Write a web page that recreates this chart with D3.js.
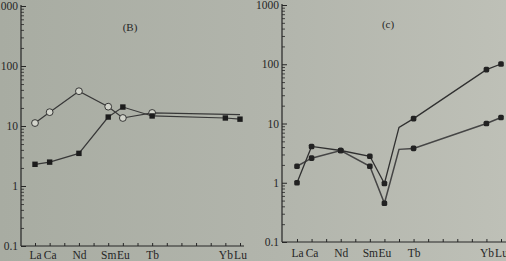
<!DOCTYPE html>
<html><head><meta charset="utf-8">
<script src="https://cdn.jsdelivr.net/npm/d3@7"></script>
<style>body{margin:0;background:#b3b6ad}svg{display:block}</style>
</head><body><svg id="c" width="506" height="261"></svg>
<script>
// Element positions along the x axis (chondrite-normalised REE pattern)
const elements = ["La","Ce","Pr","Nd","Pm","Sm","Eu","Gd","Tb","Dy","Ho","Er","Tm","Yb","Lu"];
const elementLabels = {La:"La",Ce:"Ca",Nd:"Nd",Sm:"Sm",Eu:"Eu",Tb:"Tb",Yb:"Yb",Lu:"Lu"};
const yTickLabels = [0.1, 1, 10, 100, 1000];

// Panel (B)
const bCircleEls = ["La","Ce","Nd","Sm","Eu","Tb","Lu"];
const bCircleVals = [11.2, 17, 38, 21, 13.6, 16.5, 15.5];
const bSquareEls = ["La","Ce","Nd","Sm","Eu","Tb","Yb","Lu"];
const bSquareVals = [2.3, 2.5, 3.5, 14.1, 20.7, 14.7, 13.6, 13];

// Panel (c)
const cP_Els = ["La","Ce","Nd","Sm","Eu","Gd","Tb","Yb","Lu"];
const cP_Vals = [1.0, 4.1, 3.5, 2.8, 0.97, 8.6, 12.1, 81, 101];
const cQ_Els = ["La","Ce","Nd","Sm","Eu","Gd","Tb","Yb","Lu"];
const cQ_Vals = [1.9, 2.6, 3.5, 1.9, 0.45, 3.66, 3.8, 10, 12.6];

const svg = d3.select("#c");
const defs = svg.append("defs");
const g = defs.append("linearGradient").attr("id","bg").attr("x1",0).attr("x2",1);
g.append("stop").attr("offset",0).attr("stop-color","#a8aca2");
g.append("stop").attr("offset",0.55).attr("stop-color","#b2b5ac");
g.append("stop").attr("offset",1).attr("stop-color","#bec0b7");
svg.append("rect").attr("width",506).attr("height",261).attr("fill","url(#bg)");

const ink = "#262626";
const font = "'Liberation Serif','Times New Roman',serif";

function panel(opt){
  const x = d3.scaleLinear().domain([0,14]).range([opt.x0, opt.x1]);
  const y = d3.scaleLog().domain([0.1,1000]).range([opt.yb, opt.yt]);
  const root = svg.append("g");
  const minor = y.ticks().filter(v => !yTickLabels.includes(+v.toPrecision(3)));
  root.append("g").attr("transform",`translate(${opt.ax},0)`)
    .call(d3.axisLeft(y).tickValues(minor).tickSize(-3).tickFormat(""))
    .call(s=>s.select(".domain").remove())
    .selectAll("line").attr("stroke",ink).attr("stroke-width",0.8);
  const yax = root.append("g").attr("transform",`translate(${opt.ax},0)`)
    .call(d3.axisLeft(y).tickValues(yTickLabels).tickSize(-5).tickPadding(3)
      .tickFormat(d => d3.format("~g")(d)));
  yax.select(".domain").attr("d",`M0,${opt.yt-1}V${opt.yb}`).attr("stroke",ink).attr("stroke-width",1.2);
  yax.selectAll("line").attr("stroke",ink);
  yax.selectAll("text").attr("font-family",font).attr("font-size",11.5).attr("fill",ink);
  const xax = root.append("g").attr("transform",`translate(0,${opt.yb})`)
    .call(d3.axisBottom(x).tickValues(d3.range(15)).tickSize(-3).tickPadding(opt.pad)
      .tickFormat(i => elementLabels[elements[i]] || ""));
  xax.select(".domain").attr("d",`M${opt.ax},0H${opt.xe}`).attr("stroke",ink).attr("stroke-width",1.2);
  xax.selectAll("line").attr("stroke",ink);
  xax.selectAll("text").attr("font-family",font).attr("font-size",11.5).attr("fill",ink);
  root.append("text").attr("x",opt.tx).attr("y",opt.ty).attr("text-anchor","middle")
    .attr("font-family",font).attr("font-size",11).attr("fill",ink).text(opt.title);
  return {x,y,root};
}

function series(p, els, vals, kind, color, w, noMarker){
  const pts = els.map((e,i)=>({i:elements.indexOf(e), v:vals[i], e}));
  const line = d3.line().x(d=>p.x(d.i)).y(d=>p.y(d.v));
  p.root.append("path").datum(pts).attr("d",line).attr("fill","none")
    .attr("stroke",color).attr("stroke-width",w);
  const m = pts.filter(d=>!noMarker.includes(d.e));
  if(kind==="circle"){
    p.root.selectAll(null).data(m).join("circle")
      .attr("cx",d=>p.x(d.i)).attr("cy",d=>p.y(d.v)).attr("r",3.4)
      .attr("fill","#d2d4cb").attr("stroke",ink).attr("stroke-width",0.9);
  } else if(kind==="square"){
    p.root.selectAll(null).data(m).join("rect")
      .attr("x",d=>p.x(d.i)-2.7).attr("y",d=>p.y(d.v)-2.7).attr("width",5.4).attr("height",5.4)
      .attr("fill","#1c1c1c");
  } else {
    p.root.selectAll(null).data(m).join("rect")
      .attr("x",d=>p.x(d.i)-2.8).attr("y",d=>p.y(d.v)-2.8).attr("width",5.6).attr("height",5.6)
      .attr("rx",1.6).attr("fill","#222");
  }
}

const pB = panel({x0:35,x1:240,ax:21,xe:244,yt:6,yb:246,pad:5,tx:130,ty:31,title:"(B)"});
series(pB, bCircleEls, bCircleVals, "circle", "#383838", 1.2, ["Lu"]);
series(pB, bSquareEls, bSquareVals, "square", "#383838", 1.2, []);

const pC = panel({x0:297,x1:501,ax:282,xe:506,yt:5,yb:242,pad:7,tx:388,ty:28,title:"(c)"});
series(pC, cQ_Els, cQ_Vals, "dot", "#454545", 1.5, ["Gd"]);
series(pC, cP_Els, cP_Vals, "dot", "#303030", 1.3, ["Gd"]);
</script></body></html>
